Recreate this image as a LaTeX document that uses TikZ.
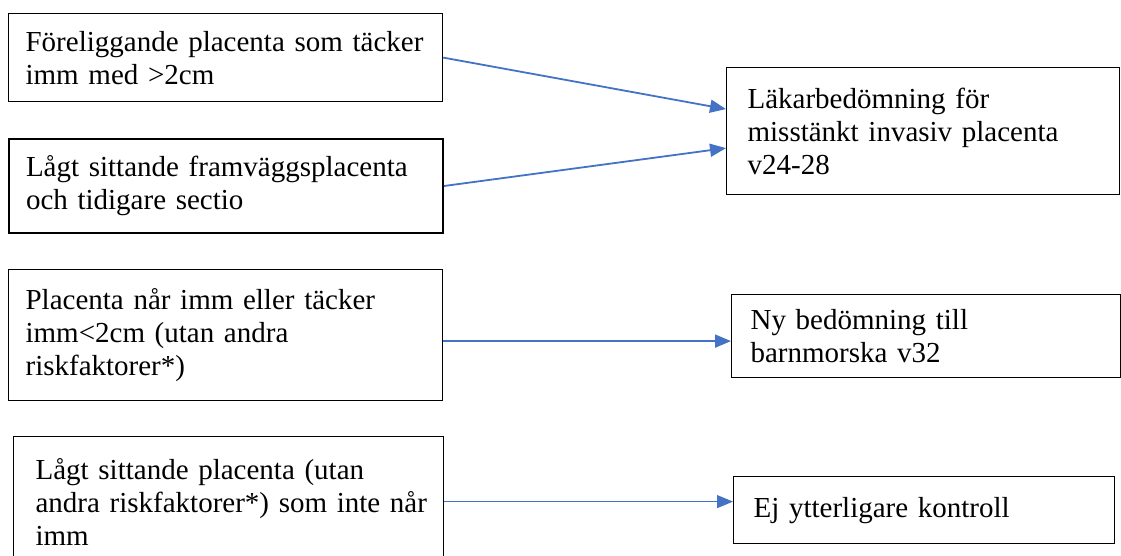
\documentclass[tikz,border=0pt]{standalone}
\usepackage{fontspec}
\setmainfont{Liberation Serif}
\usetikzlibrary{arrows.meta}
\definecolor{arrowblue}{HTML}{4472C4}
\begin{document}
\begin{tikzpicture}[x=1pt,y=-1pt,
  box/.style={draw, line width=1.2pt, anchor=north west, align=left, inner ysep=0pt, font=\fontsize{29}{33}\selectfont},
  arr/.style={draw=arrowblue, line width=1.8pt, -{Triangle[length=16pt,width=13pt]}}]
\useasboundingbox (0,0) rectangle (1121,556);
% left column
\node[box, inner xsep=17pt, text width=400pt, minimum height=88pt] (cover) at (8,13) {Föreliggande placenta som täcker\\imm med >2cm};
\node[box, line width=2pt, inner xsep=17pt, text width=400pt, minimum height=94pt] (front) at (8,138) {Lågt sittande framväggsplacenta\\och tidigare sectio};
\node[box, inner xsep=17pt, text width=400pt, minimum height=131pt] (reach) at (8,269) {Placenta når imm eller täcker\\imm<2cm (utan andra\\riskfaktorer*)};
\node[box, inner xsep=22pt, text width=386pt, minimum height=130pt] (low) at (13,436) {Lågt sittande placenta (utan\\\mbox{andra riskfaktorer*) som inte når}\\imm};
% right column
\node[box, inner xsep=21pt, text width=351pt, minimum height=127pt] (doctor) at (726,67) {Läkarbedömning för\\misstänkt invasiv placenta\\v24-28};
\node[box, inner xsep=19pt, text width=351pt, minimum height=83pt] (midwife) at (731,294) {Ny bedömning till\\barnmorska v32};
\node[box, inner xsep=20pt, text width=341pt, minimum height=67pt] (none) at (733,476) {Ej ytterligare kontroll};
% arrows
\draw[arr] (cover.east) -- ([yshift=22pt]doctor.west);
\draw[arr] (front.east) -- ([yshift=-17pt]doctor.west);
\draw[arr] ([yshift=-6pt]reach.east) -- ([yshift=-6pt]reach.east -| midwife.west);
\draw[arr, line width=1pt] (low.east) -- (low.east -| none.west);
\end{tikzpicture}
\end{document}
